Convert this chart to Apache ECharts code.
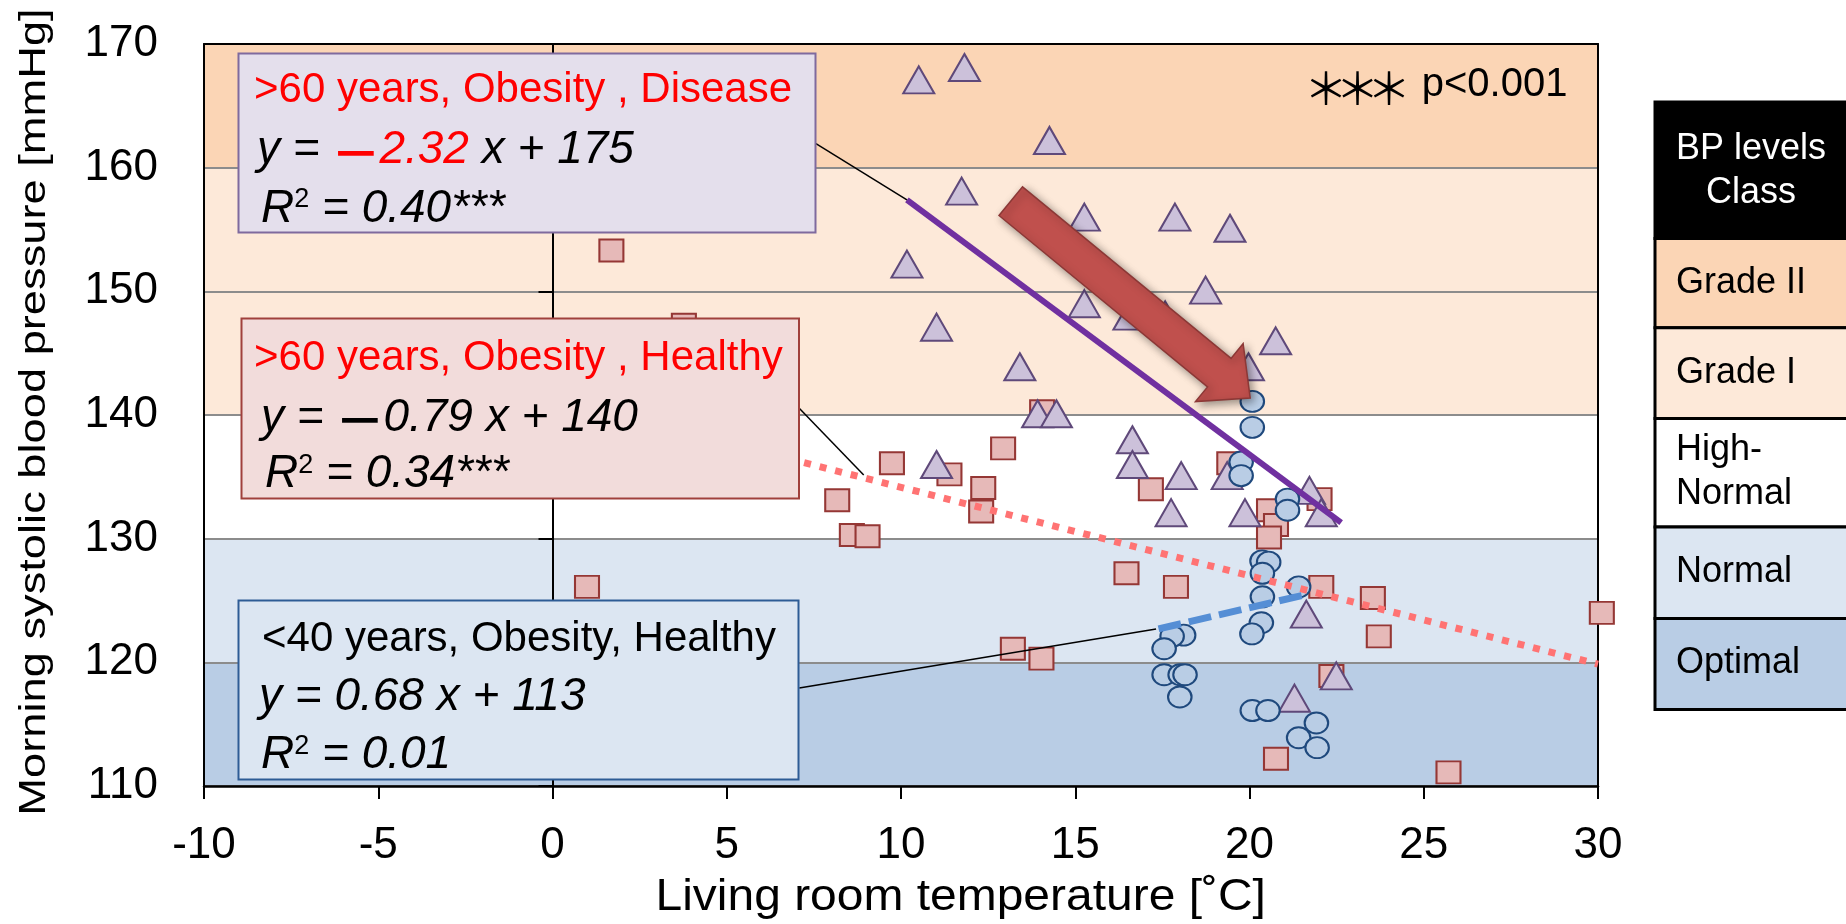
<!DOCTYPE html>
<html>
<head>
<meta charset="utf-8">
<title>Living room temperature and morning systolic blood pressure</title>
<script src="https://cdn.jsdelivr.net/npm/echarts@6/dist/echarts.min.js"></script>
<style>
  html, body { margin: 0; padding: 0; background: #ffffff; }
  #chart { width: 1846px; height: 924px; }
</style>
</head>
<body>
<div id="chart"></div>
<script>
// ---------- axis ticks ----------
const xTicks = [-10, -5, 0, 5, 10, 15, 20, 25, 30];
const yTicks = [110, 120, 130, 140, 150, 160, 170];

// ---------- >60 years, obesity, healthy (squares) ----------
const oldHealthyX = [1.69, 3.77, 0.99, 14.05, 12.93, 9.74, 19.42, 11.39, 12.36, 17.17, 22.01, 8.17, 12.30, 20.56, 20.76,
  20.56, 8.59, 9.04, 16.47, 17.89, 22.06, 23.54, 23.71, 13.21, 14.03, 22.35, 20.76, 30.11, 25.71];
const oldHealthyY = [153.3, 147.3, 126.1, 140.3, 137.3, 136.1, 136.1, 135.2, 134.1, 134.0, 133.2, 133.1, 132.2, 132.3, 131.1,
  130.1, 130.3, 130.2, 127.2, 126.1, 126.1, 125.2, 122.1, 121.1, 120.3, 118.9, 112.2, 124.0, 111.1];

// ---------- >60 years, obesity, disease (triangles) ----------
const oldDiseaseX = [10.51, 11.82, 14.26, 11.74, 15.26, 17.86, 19.44, 10.17, 18.74, 15.26, 16.54, 17.58, 11.02, 20.75, 13.41,
  19.97, 13.92, 14.46, 16.64, 11.02, 16.64, 18.04, 19.36, 21.72, 17.75, 19.87, 22.06, 21.63, 22.49, 21.29];
const oldDiseaseY = [167.1, 168.1, 162.2, 158.1, 156.0, 156.0, 155.1, 152.2, 150.1, 149.0, 148.0, 148.1, 147.1, 146.0, 143.9,
  143.9, 140.1, 140.1, 138.0, 136.0, 136.0, 135.1, 135.1, 133.9, 132.1, 132.1, 132.1, 123.9, 118.9, 117.1];

// ---------- <40 years, obesity, healthy (circles) ----------
const youngHealthyX = [20.08, 20.08, 19.76, 19.76, 21.09, 21.09, 20.36, 20.55, 20.37, 21.41, 20.37, 20.34, 20.07, 18.11, 17.78,
  17.55, 17.55, 18.01, 18.15, 18.00, 20.08, 20.53, 21.92, 21.41, 21.94];
const youngHealthyY = [141.1, 139.0, 136.2, 135.1, 133.2, 132.3, 128.2, 128.1, 127.2, 126.1, 125.3, 123.2, 122.3, 122.2, 122.1,
  121.1, 119.0, 119.0, 119.0, 117.2, 116.1, 116.1, 115.1, 113.9, 113.1];

// ---------- trend lines (start / end points) ----------
const diseaseFitX = [10.17, 22.63];
const diseaseFitY = [157.4, 131.3];
const oldHealthyFitX = [0.99, 30];
const oldHealthyFitY = [140.6, 119.85];
const youngFitX = [17.39, 21.65];
const youngFitY = [122.7, 125.5];

// ---------- callout leader lines (box edge -> trend line) ----------
const leaderDiseaseX = [7.56, 10.17];
const leaderDiseaseY = [161.95, 157.4];
const leaderOldX = [7.08, 8.93];
const leaderOldY = [140.54, 135.15];
const leaderYoungX = [7.08, 17.32];
const leaderYoungY = [117.92, 122.69];

// ---------- highlight arrow (tail centre, tip) ----------
const arrowX = [13.15, 20.02];
const arrowY = [157.29, 141.37];

// ---------- blood pressure classes ----------
const bandLow = [110, 120, 130, 140, 160];
const bandHigh = [120, 130, 140, 160, 170];
const bandColors = ['#B9CDE5', '#DCE6F2', '#FFFFFF', '#FDE9D9', '#FBD5B5'];
const classNames = ['Grade II', 'Grade I', 'High-\nNormal', 'Normal', 'Optimal'];
const classColors = ['#FBD5B5', '#FDE9D9', '#FFFFFF', '#DCE6F2', '#B9CDE5'];

// ---------- texts ----------
const xTitle = 'Living room temperature [˚C]';
const yTitle = 'Morning systolic blood pressure [mmHg]';

const FONT = '"Liberation Sans", Arial, sans-serif';
const CJK = '"Noto Sans CJK JP", sans-serif';
const DEJAVU = '"DejaVu Sans", sans-serif';

const zip = (xs, ys) => xs.map((x, i) => [x, ys[i]]);

const xMin = xTicks[0], xMax = xTicks[xTicks.length - 1];
const yMin = yTicks[0], yMax = yTicks[yTicks.length - 1];

const chart = echarts.init(document.getElementById('chart'), null, { renderer: 'canvas' });

function lineSeries(xs, ys, style) {
  return {
    type: 'line', data: zip(xs, ys), symbol: 'none', showSymbol: false,
    silent: true, clip: false, z: 3, animation: false,
    lineStyle: style
  };
}

// rich text styles for the equation lines; the minus sign sits in a fixed-width cell
const minusCell = { fontFamily: DEJAVU, fontSize: 57, width: 47, align: 'center', lineHeight: 43, verticalAlign: 'top' };
const eqRich = {
  i:   { fontFamily: FONT, fontSize: 46, fontStyle: 'italic', fill: '#000000' },
  ir:  { fontFamily: FONT, fontSize: 46, fontStyle: 'italic', fill: '#FF0000' },
  m:   Object.assign({ fill: '#000000' }, minusCell),
  mr:  Object.assign({ fill: '#FF0000' }, minusCell),
  sup: { fontFamily: FONT, fontSize: 27, fill: '#000000', verticalAlign: 'top' }
};

function txt(x, y, text, font, fill, align) {
  const a = align || 'left';
  return {
    type: 'text', x: x, y: y, z: 101, silent: true,
    style: { text: text, font: font, fill: fill,
             align: a, textAlign: a, verticalAlign: 'middle', textVerticalAlign: 'middle' }
  };
}

function richTxt(x, y, text) {
  return {
    type: 'text', x: x, y: y, z: 101, silent: true,
    style: { text: text, rich: eqRich, align: 'left', textAlign: 'left',
             verticalAlign: 'middle', textVerticalAlign: 'middle', font: 'italic 46px ' + FONT }
  };
}

function box(x, y, w, h, fill, stroke) {
  return { type: 'rect', z: 100, silent: true, shape: { x: x, y: y, width: w, height: h },
           style: { fill: fill, stroke: stroke, lineWidth: 2 } };
}

// legend table of BP classes
const tableLeft = 1655, tableW = 200;
const rowTops = [238.5, 327.8, 418.4, 526.9, 618.4, 709.5];
const tableGraphics = [
  { type: 'rect', z: 100, silent: true, shape: { x: tableLeft, y: 102, width: tableW, height: 136.5 },
    style: { fill: '#000000', stroke: '#000000', lineWidth: 3 } },
  { type: 'text', x: 1751, y: 170.6, z: 101, silent: true,
    style: { text: 'BP levels\nClass', font: '36px ' + FONT, fill: '#FFFFFF', lineHeight: 44,
             align: 'center', textAlign: 'center', verticalAlign: 'middle', textVerticalAlign: 'middle' } }
];
classNames.forEach((name, i) => {
  const top = rowTops[i], bottom = rowTops[i + 1];
  tableGraphics.push({ type: 'rect', z: 100, silent: true,
    shape: { x: tableLeft, y: top, width: tableW, height: bottom - top },
    style: { fill: classColors[i], stroke: '#000000', lineWidth: 3 } });
  tableGraphics.push({ type: 'text', x: 1676, y: (top + bottom) / 2 - 0.5, z: 101, silent: true,
    style: { text: name, font: '36px ' + FONT, fill: '#000000', lineHeight: 44,
             align: 'left', textAlign: 'left', verticalAlign: 'middle', textVerticalAlign: 'middle' } });
});

// significance marks, one glyph each so they can be spaced like the label
const starCenters = [1326, 1357.5, 1389];
const starGraphics = starCenters.map(cx => txt(cx, 88, '＊', '44px ' + CJK, '#000000', 'center'));

const graphics = [
  // >60 years, obesity, disease
  box(238.5, 53.5, 577, 179, '#E4DFEC', '#7F6A9E'),
  txt(254, 90.4, '>60 years, Obesity , Disease', '42px ' + FONT, '#FF0000'),
  richTxt(257, 150.7, '{i|y = }{mr|−}{ir|2.32}{i| x + 175}'),
  richTxt(261, 209, '{i|R}{sup|2}{i| = 0.40***}'),
  // >60 years, obesity, healthy
  box(241.5, 318.5, 557.5, 180, '#F2DCDB', '#A0403C'),
  txt(254, 358.1, '>60 years, Obesity , Healthy', '42px ' + FONT, '#FF0000'),
  richTxt(261, 418, '{i|y = }{m|−}{i|0.79 x + 140}'),
  richTxt(265, 474.7, '{i|R}{sup|2}{i| = 0.34***}'),
  // <40 years, obesity, healthy
  box(238.5, 600.5, 560, 179, '#DCE6F2', '#2E5C95'),
  txt(262, 639.4, '<40 years, Obesity, Healthy', '42px ' + FONT, '#000000'),
  richTxt(259, 697, '{i|y = 0.68 x + 113}'),
  richTxt(261, 755.7, '{i|R}{sup|2}{i| = 0.01}'),
  // significance note
  txt(1421.7, 85, 'p<0.001', '40px ' + FONT, '#000000'),
  // axis titles
  {
    type: 'text', x: 960.7, y: 897.8, z: 101, silent: true, scaleX: 1.09,
    style: { text: xTitle, font: '44px ' + FONT, fill: '#000000',
             align: 'center', textAlign: 'center', verticalAlign: 'middle', textVerticalAlign: 'middle' }
  },
  {
    type: 'text', x: 35, y: 412, z: 101, silent: true, rotation: Math.PI / 2, scaleX: 1.257,
    style: { text: yTitle, font: '36px ' + FONT, fill: '#000000',
             align: 'center', textAlign: 'center', verticalAlign: 'middle', textVerticalAlign: 'middle' }
  }
].concat(starGraphics, tableGraphics);

const axisLabelFont = { fontSize: 44, fontFamily: FONT, color: '#000000' };

const option = {
  animation: false,
  backgroundColor: '#ffffff',
  grid: { left: 204, right: 248, top: 44, bottom: 138, containLabel: false, outerBoundsMode: 'none' },
  xAxis: [
    {
      type: 'value', min: xMin, max: xMax, interval: xTicks[1] - xTicks[0], position: 'bottom', z: 1,
      axisLine: { show: true, onZero: false, lineStyle: { color: '#000000', width: 2.5 } },
      axisTick: { show: true, inside: false, length: 13, lineStyle: { color: '#000000', width: 2 } },
      axisLabel: Object.assign({ margin: 38, showMinLabel: true, showMaxLabel: true, hideOverlap: false }, axisLabelFont),
      splitLine: { show: false }
    },
    {
      type: 'value', min: xMin, max: xMax, interval: xTicks[1] - xTicks[0], position: 'top', z: 1,
      axisLine: { show: true, onZero: false, lineStyle: { color: '#000000', width: 2 } },
      axisTick: { show: false }, axisLabel: { show: false }, splitLine: { show: false }
    }
  ],
  yAxis: [
    {
      type: 'value', min: yMin, max: yMax, interval: yTicks[1] - yTicks[0], position: 'left', z: 1,
      axisLine: { show: true, onZero: false, lineStyle: { color: '#000000', width: 2 } },
      axisTick: { show: false },
      axisLabel: Object.assign({ margin: 46, showMinLabel: true, showMaxLabel: true }, axisLabelFont),
      splitLine: { show: true, lineStyle: { color: '#8C8C8C', width: 2 } }
    },
    {
      // vertical axis drawn through x = 0
      type: 'value', min: yMin, max: yMax, interval: yTicks[1] - yTicks[0], position: 'left', z: 1,
      axisLine: { show: true, onZero: true, lineStyle: { color: '#000000', width: 2 } },
      axisTick: { show: true, inside: false, length: 14, lineStyle: { color: '#000000', width: 2 } },
      axisLabel: { show: false }, splitLine: { show: false }
    },
    {
      type: 'value', min: yMin, max: yMax, interval: yTicks[1] - yTicks[0], position: 'right', z: 1,
      axisLine: { show: true, onZero: false, lineStyle: { color: '#000000', width: 2 } },
      axisTick: { show: false }, axisLabel: { show: false }, splitLine: { show: false }
    }
  ],
  series: [
    {
      // BP class background bands
      type: 'custom', z: 0, silent: true, clip: false,
      data: bandLow.map((lo, i) => [xMin, lo, xMax, bandHigh[i]]),
      encode: { x: [0, 2], y: [1, 3] },
      renderItem: function (params, api) {
        const p0 = api.coord([api.value(0), api.value(3)]);
        const p1 = api.coord([api.value(2), api.value(1)]);
        return { type: 'rect', shape: { x: p0[0], y: p0[1], width: p1[0] - p0[0], height: p1[1] - p0[1] },
                 style: { fill: bandColors[params.dataIndex] } };
      }
    },
    {
      name: '>60 years, Obesity, Healthy', type: 'scatter', data: zip(oldHealthyX, oldHealthyY),
      symbol: 'rect', symbolSize: [24, 22], z: 2, clip: false, silent: true,
      itemStyle: { color: '#E6B9B8', borderColor: '#953735', borderWidth: 2, opacity: 1 }
    },
    {
      name: '>60 years, Obesity, Disease', type: 'scatter', data: zip(oldDiseaseX, oldDiseaseY),
      symbol: 'triangle', symbolSize: [31, 27], z: 2, clip: false, silent: true,
      itemStyle: { color: '#CCC1DA', borderColor: '#5F497A', borderWidth: 2, opacity: 1 }
    },
    {
      name: '<40 years, Obesity, Healthy', type: 'scatter', data: zip(youngHealthyX, youngHealthyY),
      symbol: 'path://M0 1A1 1 0 1 0 2 1A1 1 0 1 0 0 1Z', symbolSize: [23.5, 21], z: 2, clip: false, silent: true,
      itemStyle: { color: '#B9CDE5', borderColor: '#1F497D', borderWidth: 2, opacity: 1 }
    },
    lineSeries(oldHealthyFitX, oldHealthyFitY, { color: '#FF7373', width: 7, type: [7, 9], cap: 'butt' }),
    lineSeries(diseaseFitX, diseaseFitY, { color: '#7030A0', width: 6 }),
    lineSeries(youngFitX, youngFitY, { color: '#558ED5', width: 7, type: [23, 8], cap: 'butt' }),
    lineSeries(leaderDiseaseX, leaderDiseaseY, { color: '#000000', width: 1.5 }),
    lineSeries(leaderOldX, leaderOldY, { color: '#000000', width: 1.5 }),
    lineSeries(leaderYoungX, leaderYoungY, { color: '#000000', width: 1.5 }),
    {
      // block arrow pointing down the temperature gradient
      type: 'custom', z: 4, silent: true, clip: false,
      data: [[arrowX[0], arrowY[0], arrowX[1], arrowY[1]]],
      encode: { x: [0, 2], y: [1, 3] },
      renderItem: function (params, api) {
        const t = api.coord([api.value(0), api.value(1)]);
        const p = api.coord([api.value(2), api.value(3)]);
        const dx = p[0] - t[0], dy = p[1] - t[1];
        const len = Math.sqrt(dx * dx + dy * dy);
        const ux = dx / len, uy = dy / len, nx = -uy, ny = ux;
        const shaft = 18.5, head = 37.5, headLen = 40, neck = len - headLen;
        const pt = (a, b) => [t[0] + ux * a + nx * b, t[1] + uy * a + ny * b];
        return {
          type: 'polygon',
          shape: { points: [pt(0, shaft), pt(neck, shaft), pt(neck, head), [p[0], p[1]],
                            pt(neck, -head), pt(neck, -shaft), pt(0, -shaft)] },
          style: { fill: '#C0504D', stroke: '#8C3836', lineWidth: 1.5,
                   shadowBlur: 8, shadowOffsetX: 3, shadowOffsetY: 3, shadowColor: 'rgba(0,0,0,0.4)' }
        };
      }
    }
  ],
  graphic: { elements: graphics }
};

chart.setOption(option);
</script>
</body>
</html>
